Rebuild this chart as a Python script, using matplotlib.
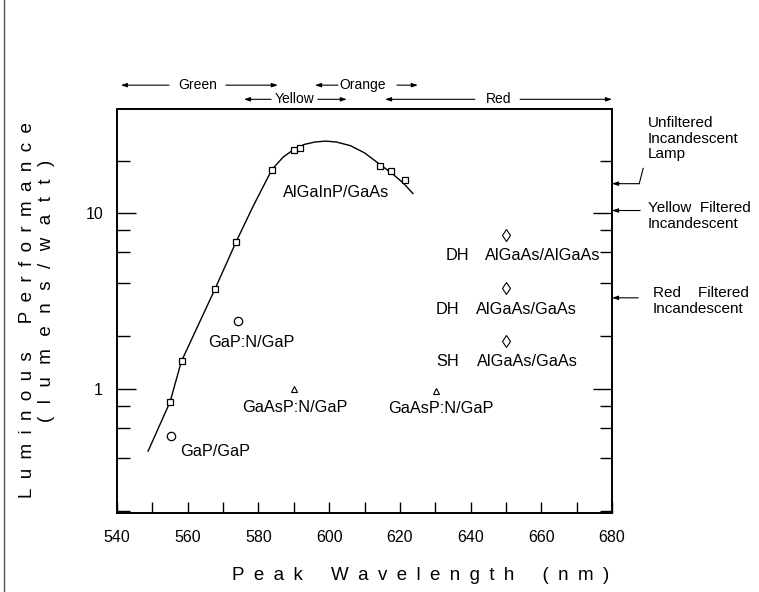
import numpy as np
import matplotlib
matplotlib.use("Agg")
import matplotlib.pyplot as plt

plt.rcParams['font.family'] = ['Liberation Sans', 'DejaVu Sans']

# ------------------------------------------------------------
# data
# ------------------------------------------------------------
# AlGaInP/GaAs (squares)
alinp_wl = [555.0, 558.3, 567.7, 573.7, 583.8, 590.1, 591.8, 614.4, 617.5, 621.4]
alinp_lp = [0.84, 1.43, 3.7, 6.9, 17.8, 22.9, 23.8, 18.6, 17.4, 15.6]

# drawn trend line through the AlGaInP points
curve_wl = [548.8, 555.0, 558.2, 567.7, 573.7, 578.5, 583.8, 587.0, 590.0, 593.0,
            596.0, 599.0, 602.0, 606.0, 610.0, 614.0, 618.0, 621.0, 623.7]
curve_lp = [0.44, 0.84, 1.43, 3.7, 6.9, 11.0, 17.8, 21.0, 23.2, 24.8,
            25.6, 25.9, 25.6, 24.4, 22.2, 19.3, 16.8, 14.9, 13.0]

# GaP (circles)
gap_wl = [555.2, 574.1]
gap_lp = [0.54, 2.42]

# GaAsP:N/GaP (triangles)
gaasp_wl = [590.0, 630.2]
gaasp_lp = [0.99, 0.97]

# AlGaAs (diamonds)
algaas_wl = [650.0, 650.0, 650.0]
algaas_lp = [7.56, 3.74, 1.86]

# incandescent reference levels (arrows on the right axis)
lamp_names = ['Unfiltered\nIncandescent\nLamp', 'Yellow  Filtered\nIncandescent',
              'Red    Filtered\nIncandescent']
lamp_lp = [14.8, 10.4, 3.3]

# colour bands across the top: name, left line, text x, right line, row
bands = [
    ('Green', 541.1, 554.7, 562.9, 570.8, 585.5, 0),
    ('Orange', 596.0, 602.5, 609.5, 619.2, 625.1, 0),
    ('Yellow', 575.9, 583.6, 590.1, 596.8, 605.0, 1),
    ('Red', 615.8, 641.2, 648.0, 654.0, 680.0, 1),
]

# point labels
point_labels = [
    ('AlGaInP/GaAs', 587.0, 13.2),
    ('GaP:N/GaP', 565.7, 1.83),
    ('GaAsP:N/GaP', 575.3, 0.78),
    ('GaP/GaP', 557.8, 0.44),
    ('GaAsP:N/GaP', 616.7, 0.775),
    ('DH', 633.0, 5.75), ('AlGaAs/AlGaAs', 644.2, 5.75),
    ('DH', 630.0, 2.83), ('AlGaAs/GaAs', 641.4, 2.83),
    ('SH', 630.4, 1.43), ('AlGaAs/GaAs', 641.7, 1.43),
]


def spaced(words, gap, wordgap):
    # letter-spaced title like the typeset original
    return wordgap.join(gap.join(w) for w in words)


W, H = 759, 592
fig = plt.figure(figsize=(W / 100, H / 100), dpi=100)
ax = fig.add_axes([117 / W, 1 - 513 / H, (612 - 117) / W, (513 - 109) / H])

ax.plot(curve_wl, curve_lp, '-', color='black', lw=1.0)
ax.plot(alinp_wl, alinp_lp, 's', mfc='white', mec='black', ms=5, mew=0.9)
ax.plot(gap_wl, gap_lp, 'o', mfc='white', mec='black', ms=6, mew=0.9)
ax.plot(gaasp_wl, gaasp_lp, '^', mfc='white', mec='black', ms=5, mew=0.8)
ax.plot(algaas_wl, algaas_lp, 'd', mfc='white', mec='black', ms=6, mew=0.8)

ax.set_yscale('log')
ax.set_xlim(540, 680)
ax.set_ylim(0.195, 39.5)

ax.set_xticks(np.arange(540, 681, 20))
ax.set_xticks(np.arange(550, 680, 20), minor=True)
ax.set_yticks([1, 10])
ax.set_yticklabels(['1', '10'])
ax.set_yticks([0.2, 0.4, 0.6, 0.8, 2, 4, 6, 8, 20], minor=True)
ax.yaxis.set_minor_formatter(matplotlib.ticker.NullFormatter())

ax.tick_params(axis='x', which='both', direction='in', length=8, width=1.0,
               labelsize=11.5, pad=12)
ax.tick_params(axis='y', which='major', direction='in', length=14, width=1.0,
               labelsize=11.5, pad=10, right=True)
ax.tick_params(axis='y', which='minor', direction='in', length=9, width=1.0, right=True)
for s in ax.spines.values():
    s.set_linewidth(1.4)

for txt, x, y in point_labels:
    ax.text(x, y, txt, fontsize=11.7, ha='left', va='center')

# colour bands above the plot
trans = ax.get_xaxis_transform()
row_y = [1.059, 1.024]
head = '-|>,head_length=0.35,head_width=0.12'
for name, l0, l1, tx, r0, r1, row in bands:
    y = row_y[row]
    ax.text(tx, y, name, fontsize=10, ha='center', va='center', transform=trans)
    ax.annotate('', xy=(l0, y), xytext=(l1, y), xycoords=trans, textcoords=trans,
                arrowprops=dict(arrowstyle=head, lw=0.8, color='black',
                                shrinkA=0, shrinkB=0))
    ax.annotate('', xy=(r1, y), xytext=(r0, y), xycoords=trans, textcoords=trans,
                arrowprops=dict(arrowstyle=head, lw=0.8, color='black',
                                shrinkA=0, shrinkB=0))

# incandescent references on the right
rtrans = ax.get_yaxis_transform()
text_pos = [(648, 116), (648, 201), (653, 286)]
line_end = [1.055, 1.057, 1.053]
for name, lv, (px, py), xe in zip(lamp_names, lamp_lp, text_pos, line_end):
    ax.annotate('', xy=(1.0, lv), xytext=(xe, lv), xycoords=rtrans, textcoords=rtrans,
                arrowprops=dict(arrowstyle=head, lw=0.8, color='black',
                                shrinkA=0, shrinkB=0))
    fig.text(px / W, 1 - py / H, name, fontsize=11, ha='left', va='top',
             linespacing=1.15)
# leader from the unfiltered arrow up to its label
ax.plot([1.055, 1.063], [lamp_lp[0], 18.1], color='black', lw=0.8,
        transform=rtrans, clip_on=False)

# axis titles, letter spaced
en = '\u2002'
fig.text(28 / W, 1 - 310 / H, spaced(['Luminous', 'Performance'], en, en * 3),
         rotation=90, fontsize=13.5, ha='center', va='center')
fig.text(47 / W, 1 - 291 / H, spaced(['(lumens/watt)'], en + '\u2006', ''),
         rotation=90, fontsize=13.5, ha='center', va='center')
fig.text(421 / W, 1 - 576 / H, spaced(['Peak', 'Wavelength', '(nm)'], en, en * 3),
         fontsize=13.5, ha='center', va='center')

# scan border on the left
fig.add_artist(plt.Line2D([4 / W, 4 / W], [0, 1], color='#555555', lw=1.0))

fig.savefig('out.png', dpi=100)
